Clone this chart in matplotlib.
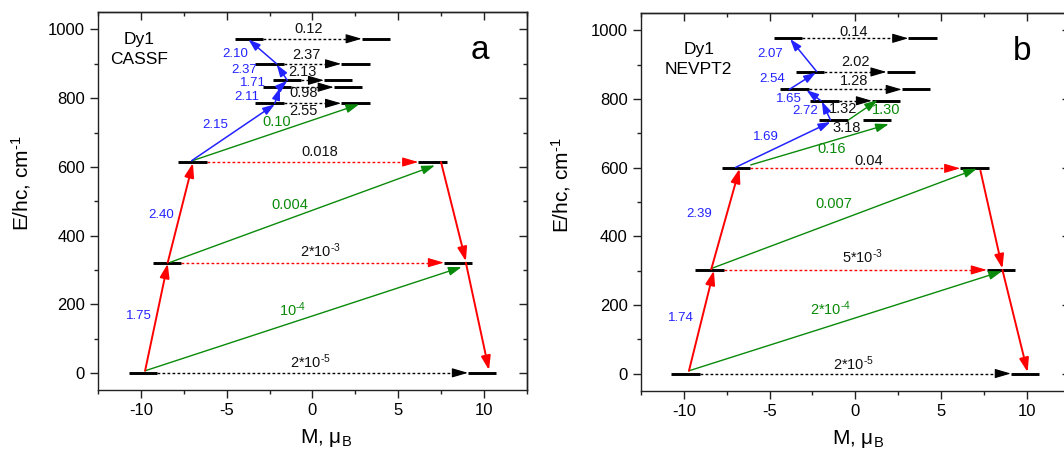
import matplotlib
matplotlib.use('Agg')
import matplotlib.pyplot as plt
from matplotlib.ticker import MultipleLocator

plt.rcParams['font.family'] = ['Liberation Sans', 'DejaVu Sans']
plt.rcParams['mathtext.fontset'] = 'custom'
plt.rcParams['mathtext.rm'] = 'Liberation Sans'
plt.rcParams['mathtext.it'] = 'Liberation Sans:italic'
plt.rcParams['mathtext.bf'] = 'Liberation Sans:bold'
plt.rcParams['mathtext.sf'] = 'Liberation Sans'
plt.rcParams['axes.unicode_minus'] = False

HY = '\u2010'  # hyphen used in exponents

# ---------------- Panel a : Dy1 CASSF ----------------
a_level_E = [0, 321, 614, 785, 832, 852, 900, 973]
a_level_M = [9.9, 8.5, 7.0, 2.5, 2.07, 1.5, 2.5, 3.7]
a_tunnel_text = ['2*10$^{' + HY + '5}$', '2*10$^{' + HY + '3}$', '0.018', '2.55', '0.98', '2.13', '2.37', '0.12']
a_tunnel_color = ['k', 'r', 'r', 'k', 'k', 'k', 'k', 'k']
a_tunnel_drawn = [True, True, True, True, True, True, True, True]
a_tunnel_label_M = [-0.1, 0.45, 0.4, -0.55, -0.5, -0.6, -0.35, -0.2]
a_tunnel_label_E = [32, 357, 643, 762, 815, 876, 925, 1000]

# arrows: (M_from, E_from, M_to, E_to)
a_red = [(-9.77, 6, -8.45, 318), (-8.45, 321, -6.98, 611),
         (7.5, 614, 8.95, 325), (8.95, 321, 10.3, 8)]
a_green = [(-9.77, 6, 8.7, 308), (-8.3, 322, 7.14, 604), (-7.0, 618, 2.72, 782)]
a_blue = [(-7.05, 618, -2.2, 782), (-2.2, 785, -1.9, 830), (-1.9, 832, -1.47, 851),
          (-1.47, 852, -2.09, 898), (-2.09, 900, -3.74, 971)]
a_blue_text = ['1.75', '2.40', '2.15', '2.11', '1.71', '2.37', '2.10']
a_blue_text_M = [-10.15, -8.85, -5.7, -3.85, -3.45, -3.98, -4.52]
a_blue_text_E = [165, 461, 721, 803, 843, 883, 930]
a_green_text = ['10$^{' + HY + '4}$', '0.004', '0.10']
a_green_text_M = [-1.15, -1.3, -2.1]
a_green_text_E = [184, 490, 731]

# ---------------- Panel b : Dy1 NEVPT2 ----------------
b_level_E = [0, 302, 598, 739, 795, 828, 879, 977]
b_level_M = [9.9, 8.5, 6.95, 1.27, 1.8, 3.54, 2.65, 3.92]
b_tunnel_text = ['2*10$^{' + HY + '5}$', '5*10$^{' + HY + '3}$', '0.04', '3.18', '1.32', '1.28', '2.02', '0.14']
b_tunnel_color = ['k', 'r', 'r', 'k', 'k', 'k', 'k', 'k']
b_tunnel_drawn = [True, True, True, False, True, True, True, True]
b_tunnel_label_M = [-0.1, 0.4, 0.8, -0.5, -0.7, -0.1, 0.0, -0.1]
b_tunnel_label_E = [30, 340, 620, 717, 770, 852, 909, 994]

b_red = [(-9.7, 8, -8.25, 300), (-8.4, 304, -6.75, 597),
         (7.3, 591, 8.58, 306), (8.58, 302, 10.05, 4)]
b_green = [(-9.7, 8, 8.55, 298), (-8.4, 306, 7.09, 597), (-6.1, 608, 1.95, 727),
           (-0.4, 739, 1.3, 797)]
b_blue = [(-6.98, 601, -1.45, 733), (-1.45, 739, -1.95, 793), (-2.0, 795, -2.85, 826),
          (-3.85, 828, -2.3, 877), (-2.25, 880, -3.8, 975)]
b_blue_text = ['1.74', '2.39', '1.69', '2.72', '1.65', '2.54', '2.07']
b_blue_text_M = [-10.16, -9.09, -5.2, -2.95, -3.86, -4.83, -4.96]
b_blue_text_E = [161, 464, 690, 766, 800, 858, 931]
b_green_text = ['2*10$^{' + HY + '4}$', '0.007', '0.16', '1.30']
b_green_text_M = [-1.44, -1.28, -1.4, 1.82]
b_green_text_E = [189, 493, 653, 768]

RED = '#ff0000'
GREEN = '#0a8a0a'
BLUE = '#2323ff'
HW = 0.83  # half width of level bars


def arrow(ax, m0, e0, m1, e1, color, lw, ms):
    ax.annotate('', xy=(m1, e1), xytext=(m0, e0),
                arrowprops=dict(arrowstyle='-|>,head_length=0.65,head_width=0.22',
                                mutation_scale=ms, color=color, lw=lw,
                                shrinkA=0, shrinkB=0), zorder=4)


def panel(ax, lev_E, lev_M, t_text, t_col, t_drawn, t_M, t_E,
          red, green, blue, bl_text, bl_M, bl_E, gr_text, gr_M, gr_E,
          name, letter, name_M, name_E):
    for E, M in zip(lev_E, lev_M):
        for s in (-1, 1):
            ax.plot([s * M - HW, s * M + HW], [E, E], color='k', lw=2.1,
                    solid_capstyle='butt', zorder=3)
    for E, M, col, drawn in zip(lev_E, lev_M, t_col, t_drawn):
        if not drawn:
            continue
        c = RED if col == 'r' else 'k'
        x0 = -M + HW
        tip = M - HW
        ax.plot([x0, tip - 0.4], [E, E], color=c, lw=1.0,
                linestyle=(0, (2.0, 1.6)), zorder=2)
        ax.annotate('', xy=(tip, E), xytext=(tip - 0.6, E),
                    arrowprops=dict(arrowstyle='-|>,head_length=0.75,head_width=0.22',
                                    mutation_scale=13, color=c, lw=0.8,
                                    shrinkA=0, shrinkB=0), zorder=4)
    for txt, m, e in zip(t_text, t_M, t_E):
        ax.text(m, e, txt, color='#111111', fontsize=10.5, ha='center', va='center', zorder=5)
    for (m0, e0, m1, e1) in green:
        arrow(ax, m0, e0, m1, e1, GREEN, 1.0, 12)
    for (m0, e0, m1, e1) in red:
        arrow(ax, m0, e0, m1, e1, RED, 1.4, 13)
    for (m0, e0, m1, e1) in blue:
        arrow(ax, m0, e0, m1, e1, BLUE, 1.1, 11)
    for txt, m, e in zip(bl_text, bl_M, bl_E):
        ax.text(m, e, txt, color=BLUE, fontsize=9.5, ha='center', va='center', zorder=5)
    for txt, m, e in zip(gr_text, gr_M, gr_E):
        ax.text(m, e, txt, color=GREEN, fontsize=10.5, ha='center', va='center', zorder=5)
    ax.text(name_M, name_E, name, fontsize=12.5, ha='center', va='center',
            multialignment='center', linespacing=1.35)
    ax.text(9.75, 913, letter, fontsize=24, ha='center', va='baseline')

    ax.set_xlim(-12.5, 12.5)
    ax.set_ylim(-50, 1050)
    ax.xaxis.set_major_locator(MultipleLocator(5))
    ax.xaxis.set_minor_locator(MultipleLocator(2.5))
    ax.yaxis.set_major_locator(MultipleLocator(200))
    ax.yaxis.set_minor_locator(MultipleLocator(100))
    ax.tick_params(which='both', direction='out', labelsize=12, width=1.0, color='#222222')
    ax.tick_params(which='major', length=6)
    ax.tick_params(which='minor', length=3)
    for sp in ax.spines.values():
        sp.set_linewidth(1.0)
        sp.set_color('#222222')
    top = ax.secondary_xaxis('top')
    right = ax.secondary_yaxis('right')
    top.xaxis.set_major_locator(MultipleLocator(5))
    top.xaxis.set_minor_locator(MultipleLocator(2.5))
    right.yaxis.set_major_locator(MultipleLocator(200))
    right.yaxis.set_minor_locator(MultipleLocator(100))
    for sec in (top, right):
        sec.tick_params(which='both', direction='in', labeltop=False, labelright=False,
                        width=1.0, color='#222222')
        sec.tick_params(which='major', length=6)
        sec.tick_params(which='minor', length=3)
        for sp in sec.spines.values():
            sp.set_linewidth(1.0)
            sp.set_color('#222222')

    ax.set_ylabel('E/hc, cm$^{' + HY + '1}$', fontsize=15)
    ax.set_xlabel(r'M, μ$_\mathrm{B}$', fontsize=15)


fig = plt.figure(figsize=(10.64, 4.5), dpi=100)
ax_a = fig.add_axes([0.0924, 0.1333, 0.4026, 0.8393])
ax_b = fig.add_axes([0.6024, 0.1318, 0.4029, 0.8387])

panel(ax_a, a_level_E, a_level_M, a_tunnel_text, a_tunnel_color, a_tunnel_drawn,
      a_tunnel_label_M, a_tunnel_label_E, a_red, a_green, a_blue,
      a_blue_text, a_blue_text_M, a_blue_text_E, a_green_text, a_green_text_M, a_green_text_E,
      'Dy1\nCASSF', 'a', -10.1, 942)
panel(ax_b, b_level_E, b_level_M, b_tunnel_text, b_tunnel_color, b_tunnel_drawn,
      b_tunnel_label_M, b_tunnel_label_E, b_red, b_green, b_blue,
      b_blue_text, b_blue_text_M, b_blue_text_E, b_green_text, b_green_text_M, b_green_text_E,
      'Dy1\nNEVPT2', 'b', -9.13, 915)

ax_a.yaxis.set_label_coords(-0.152, 0.547)
ax_a.xaxis.set_label_coords(0.531, -0.098)
ax_b.yaxis.set_label_coords(-0.159, 0.545)
ax_b.xaxis.set_label_coords(0.506, -0.098)

fig.savefig('out.png', dpi=100)
